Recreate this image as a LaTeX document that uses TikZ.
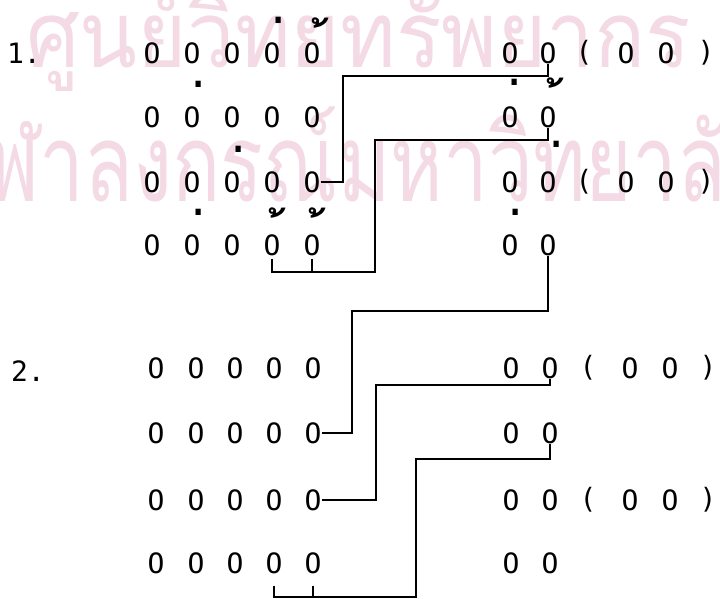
\documentclass[tikz,border=0pt]{standalone}
\usepackage{fontspec}
\usepackage{xcolor}
\definecolor{stamppink}{RGB}{243,218,228}
\newfontfamily\typefont{DejaVu Sans Mono}
\newfontfamily\thaifont[Script=Thai]{Loma}
\usetikzlibrary{positioning}
% a tone mark on its own, boxed round its ink
\newcommand{\tone}[1]{\raisebox{-1.05em}[0.14em][0.14em]{\makebox[0.34em][r]{\char"#1}}}

\begin{document}
\begin{tikzpicture}[
        x=1pt, y=-1pt,
        syl/.style={inner sep=0pt, font=\typefont\fontsize{28}{28}\selectfont},
        num/.style={inner sep=0pt, anchor=base, font=\typefont\fontsize{28}{28}\selectfont},
        maiek/.style={inner sep=0pt, font=\thaifont\bfseries\fontsize{46}{46}\selectfont},
        maitho/.style={inner sep=0pt, font=\thaifont\bfseries\fontsize{46}{46}\selectfont},
        stamp/.style={inner sep=0pt, anchor=base west, text=stamppink},
        link/.style={draw, line width=1.6pt}
    ]
        \useasboundingbox (0,0) rectangle (720,599);

        % Library stamp behind the diagram
        \begin{scope}
            \clip (0,0) rectangle (720,599);
            \node[stamp, font=\thaifont\fontsize{92}{92}\selectfont\addfontfeatures{FakeStretch=0.92}]
                (stamptop) at (26,68) {ศูนย์วิทยทรัพยากร};
            \node[stamp, font=\thaifont\fontsize{108}{108}\selectfont\addfontfeatures{FakeStretch=0.74}]
                (stampbot) at (-62,201) {จุฬาลงกรณ์มหาวิทยาลัย};
        \end{scope}

        % Pattern 1
        \node[num] (num1) at (24,64) {1.};
        \foreach \r/\y in {1/53,2/117,3/182,4/245} {
            \foreach \c/\x in {1/152,2/192,3/232,4/272,5/312,6/510,7/548}
                \node[syl] (a\r c\c) at (\x,\y) {O};
        }
        \node[syl] (a1lp) at (584,53) {(};
        \node[syl] (a1c8) at (626,53) {O};
        \node[syl] (a1c9) at (666,53) {O};
        \node[syl] (a1rp) at (706,53) {)};
        \node[syl] (a3lp) at (584,182) {(};
        \node[syl] (a3c8) at (626,182) {O};
        \node[syl] (a3c9) at (666,182) {O};
        \node[syl] (a3rp) at (706,182) {)};

        % Tone marks
        \node[maiek, above=19pt of a1c4, xshift=5pt] (ek1) {\tone{0E48}};
        \node[maitho, above=17pt of a1c5, xshift=8pt] (tho1) {\tone{0E49}};
        \node[maiek, above=19pt of a2c2, xshift=5pt] (ek2) {\tone{0E48}};
        \node[maiek, above=19pt of a3c3, xshift=5pt] (ek3) {\tone{0E48}};
        \node[maiek, above=19pt of a4c2, xshift=5pt] (ek4) {\tone{0E48}};
        \node[maitho, above=19pt of a4c4, xshift=5pt] (tho2) {\tone{0E49}};
        \node[maitho, above=19pt of a4c5, xshift=5pt] (tho3) {\tone{0E49}};
        \node[maiek, above=21pt of a2c6, xshift=3pt] (ek5) {\tone{0E48}};
        \node[maitho, above=21pt of a2c7, xshift=7pt] (tho4) {\tone{0E49}};
        \node[maiek, above=24pt of a3c7, xshift=7pt] (ek6) {\tone{0E48}};
        \node[maiek, above=19pt of a4c6, xshift=4pt] (ek7) {\tone{0E48}};

        % Links of pattern 1
        \coordinate (kA) at (343,76);
        \coordinate (kB1) at (375,272);
        \coordinate (kB2) at (375,140);
        \draw[link] (a3c5.east) -| (kA) -| (a1c7.south);
        \draw[link, shorten <=3pt] (a4c4.south) |- (kB1) -- (kB2) -| (a2c7.south);
        \draw[link, shorten <=3pt] (a4c5.south) -- (a4c5.south |- kB1);

        % Pattern 2
        \node[num] (num2) at (28,381) {2.};
        \foreach \r/\y in {1/368,2/433,3/500,4/563} {
            \foreach \c/\x in {1/156,2/196,3/235,4/274,5/313,6/511,7/550}
                \node[syl] (b\r c\c) at (\x,\y) {O};
        }
        \node[syl] (b1lp) at (588,368) {(};
        \node[syl] (b1c8) at (630,368) {O};
        \node[syl] (b1c9) at (670,368) {O};
        \node[syl] (b1rp) at (708,368) {)};
        \node[syl] (b3lp) at (588,500) {(};
        \node[syl] (b3c8) at (630,500) {O};
        \node[syl] (b3c9) at (670,500) {O};
        \node[syl] (b3rp) at (708,500) {)};

        % Link from pattern 1 down to pattern 2
        \coordinate (kC) at (352,311);
        \draw[link] (a4c7.south) |- (kC) |- (b2c5.east);

        % Links of pattern 2
        \coordinate (kD) at (376,385);
        \coordinate (kE1) at (416,597);
        \coordinate (kE2) at (416,459);
        \draw[link] (b3c5.east) -| (kD) -| (b1c7.south);
        \draw[link, shorten <=12pt] (b4c4.south) |- (kE1) -- (kE2) -| (b2c7.south);
        \draw[link, shorten <=12pt] (b4c5.south) -- (b4c5.south |- kE1);

    \end{tikzpicture}
\end{document}
